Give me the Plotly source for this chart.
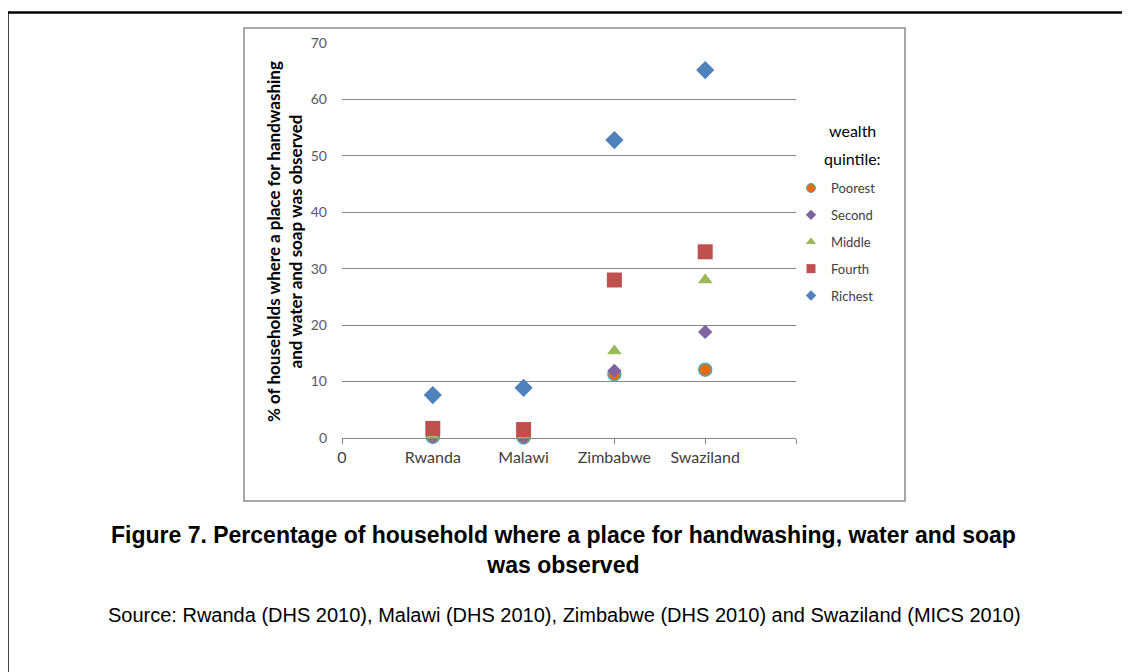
import plotly.graph_objects as go

countries = ["Rwanda", "Malawi", "Zimbabwe", "Swaziland"]
country_pos = [1, 2, 3, 4]
poorest = [0.2, 0.1, 11.3, 12.1]
second = [0.2, 0.1, 11.9, 18.8]
middle = [0.4, 0.4, 15.4, 28.0]
fourth = [1.7, 1.5, 28.0, 33.0]
richest = [7.6, 8.9, 52.8, 65.2]
x_tick_vals = [0, 1, 2, 3, 4, 5]
x_tick_text = ["0"] + countries + [""]
y_tick_vals = [0, 10, 20, 30, 40, 50, 60, 70]

OFF = 8  # page body margin
W, H = 1130 - OFF, 672 - OFF
PL, PR, PT, PB = 342, 796, 43, 438  # plot area in reference pixels


def px(x):
    return (x - PL) / (PR - PL)


def py(y):
    return (PB - y) / (PB - PT)


series = [
    ("Poorest", poorest, "circle", "#E46C0A", 13, 9, dict(color="#4BACC6", width=1.5)),
    ("Second", second, "diamond", "#8064A2", 11, 8, dict(width=0)),
    ("Middle", middle, "triangle-up", "#9BBB59", 13, 9, dict(width=0)),
    ("Fourth", fourth, "square", "#C0504D", 15, 9, dict(width=0)),
    ("Richest", richest, "diamond", "#4F81BD", 14, 8, dict(width=0)),
]

fig = go.Figure()
for name, vals, sym, col, size, lsize, line in series:
    fig.add_trace(go.Scatter(
        x=country_pos, y=vals, mode="markers", name=name, showlegend=False,
        marker=dict(symbol=sym, color=col, size=size, line=line),
        cliponaxis=False,
    ))
for name, vals, sym, col, size, lsize, line in series:
    fig.add_trace(go.Scatter(
        x=[None], y=[None], mode="markers", name=name, showlegend=True,
        legendgroup=name,
        marker=dict(symbol=sym, color=col, size=lsize,
                    line=dict(color=line.get("color", col), width=1 if name == "Poorest" else 0)),
    ))

fig.update_layout(
    width=W, height=H,
    margin=dict(l=PL - OFF, r=W - (PR - OFF), t=PT - OFF, b=H - (PB - OFF), pad=0),
    paper_bgcolor="white", plot_bgcolor="white",
    font=dict(family="Lato, Liberation Sans, sans-serif", color="#404040"),
    xaxis=dict(
        range=[0, 5], tickvals=x_tick_vals, ticktext=x_tick_text,
        showgrid=False, zeroline=False, showline=True, linecolor="#868686",
        linewidth=1, ticks="outside", ticklen=5, tickcolor="#868686",
        tickfont=dict(size=16, color="#404040"),
    ),
    yaxis=dict(
        range=[0, 70], tickvals=y_tick_vals, showgrid=True, gridcolor="#868686",
        gridwidth=1, zeroline=False, showline=False, ticks="",
        tickfont=dict(size=14, color="#595959"), ticklabelstandoff=14,
    ),
    legend=dict(
        x=px(791), y=py(173), xanchor="left", yanchor="top",
        font=dict(size=13, color="#404040"), tracegroupgap=7,
        itemwidth=30, bgcolor="rgba(0,0,0,0)",
    ),
    annotations=[
        dict(text="wealth", x=px(852), y=py(131), xref="paper", yref="paper",
             xanchor="center", yanchor="middle",
             showarrow=False, font=dict(size=16, color="#000000")),
        dict(text="quintile:", x=px(852), y=py(158), xref="paper", yref="paper",
             xanchor="center", yanchor="middle",
             showarrow=False, font=dict(size=16, color="#000000")),
        dict(text="<b>% of households where a place for handwashing<br>and water and soap was observed</b>",
             x=px(284), y=py(242), xref="paper", yref="paper", textangle=-90,
             xanchor="center", yanchor="middle",
             showarrow=False, font=dict(size=17, color="#000000"), align="center"),
        dict(text="<b>Figure 7. Percentage of household where a place for handwashing, water and soap<br>was observed</b>",
             x=px(563), y=py(550), xref="paper", yref="paper", showarrow=False,
             xanchor="center", yanchor="middle",
             font=dict(family="Liberation Sans, Arial, sans-serif", size=23, color="#000000"),
             align="center"),
        dict(text="Source: Rwanda (DHS 2010), Malawi (DHS 2010), Zimbabwe (DHS 2010) and Swaziland (MICS 2010)",
             x=px(564), y=py(615), xref="paper", yref="paper", showarrow=False,
             xanchor="center", yanchor="middle",
             font=dict(family="Liberation Sans, Arial, sans-serif", size=20, color="#000000")),
    ],
    shapes=[
        dict(type="rect", xref="paper", yref="paper", x0=px(244), x1=px(905), y0=py(28), y1=py(501),
             line=dict(color="#8c8c8c", width=1.5), layer="below"),
        dict(type="line", xref="paper", yref="paper", x0=px(7), x1=px(1140), y0=py(12.5), y1=py(12.5),
             line=dict(color="#000000", width=2.5)),
        dict(type="line", xref="paper", yref="paper", x0=px(7.5), x1=px(7.5), y0=py(12), y1=py(690),
             line=dict(color="#000000", width=2.5)),
    ],
)

fig.write_html("out.html")
